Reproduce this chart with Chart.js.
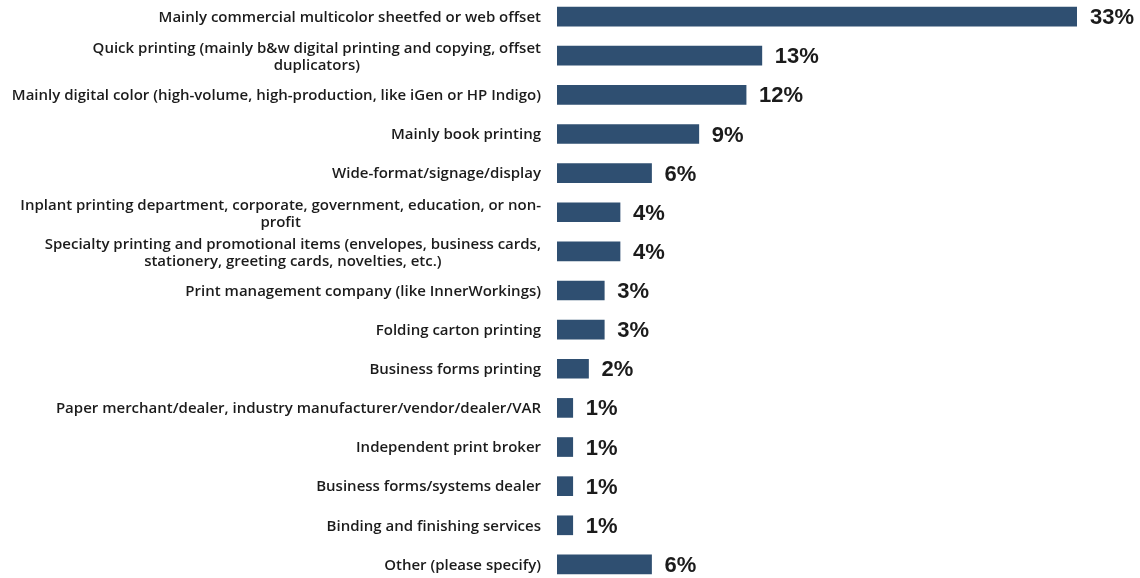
<!DOCTYPE html>
<html>
<head>
<meta charset="utf-8">
<script src="https://cdn.jsdelivr.net/npm/chart.js@4"></script>
<style>
  body { margin: 0; background: #fff; overflow: hidden; }
  #wrap { position: absolute; left: 0; top: -3px; width: 1140px; height: 587px; }
</style>
</head>
<body>
<div id="wrap"><canvas id="MyChart"></canvas></div>
<script>
const categories = [
  ['Mainly commercial multicolor sheetfed or web offset'],
  ['Quick printing (mainly b&w digital printing and copying, offset', 'duplicators)'],
  ['Mainly digital color (high-volume, high-production, like iGen or HP Indigo)'],
  ['Mainly book printing'],
  ['Wide-format/signage/display'],
  ['Inplant printing department, corporate, government, education, or non-', 'profit'],
  ['Specialty printing and promotional items (envelopes, business cards,', 'stationery, greeting cards, novelties, etc.)'],
  ['Print management company (like InnerWorkings)'],
  ['Folding carton printing'],
  ['Business forms printing'],
  ['Paper merchant/dealer, industry manufacturer/vendor/dealer/VAR'],
  ['Independent print broker'],
  ['Business forms/systems dealer'],
  ['Binding and finishing services'],
  ['Other (please specify)']
]
const shares = [33, 13, 12, 9, 6, 4, 4, 3, 3, 2, 1, 1, 1, 1, 6]

const labelFont = '600 15px "Open Sans"'
const valueFont = 'bold 22px "Liberation Sans"'

// category names on the left: block right-aligned, lines centred inside the block
const categoryLabels = {
  id: 'categoryLabels',
  afterDraw(chart) {
    const c = chart.ctx
    const y = chart.scales.y
    const right = chart.chartArea.left - 16
    c.save()
    c.font = labelFont
    c.fillStyle = '#1b1b1b'
    c.textAlign = 'center'
    c.textBaseline = 'middle'
    categories.forEach((lines, i) => {
      const w = Math.max(...lines.map(l => c.measureText(l).width))
      const cx = right - w / 2
      const lh = 17
      const top = y.getPixelForValue(i) + (lines.length > 1 ? 2 : 1) - (lines.length - 1) * lh / 2
      lines.forEach((l, k) => c.fillText(l, cx, top + k * lh))
    })
    c.restore()
  }
}

// percentage next to each bar
const valueLabels = {
  id: 'valueLabels',
  afterDatasetsDraw(chart) {
    const c = chart.ctx
    c.save()
    c.font = valueFont
    c.fillStyle = '#1b1b1b'
    c.textAlign = 'left'
    c.textBaseline = 'middle'
    chart.getDatasetMeta(0).data.forEach((bar, i) => {
      c.fillText(shares[i] + '%', bar.x + 13, bar.y + 1.5)
    })
    c.restore()
  }
}

let ctx = document.getElementById('MyChart')
new Chart(ctx, {
  type: 'bar',
  data: {
    labels: categories.map(l => l.join(' ')),
    datasets: [{
      data: shares,
      backgroundColor: '#2f4f71',
      borderWidth: 0,
      barThickness: 19
    }]
  },
  options: {
    indexAxis: 'y',
    responsive: true,
    maintainAspectRatio: false,
    animation: false,
    layout: { padding: { left: 557, right: 63, top: 0, bottom: 0 } },
    plugins: { legend: { display: false }, tooltip: { enabled: false } },
    scales: {
      x: { display: false, min: 0, max: 33 },
      y: { display: false }
    }
  },
  plugins: [categoryLabels, valueLabels]
})
</script>
</body>
</html>
